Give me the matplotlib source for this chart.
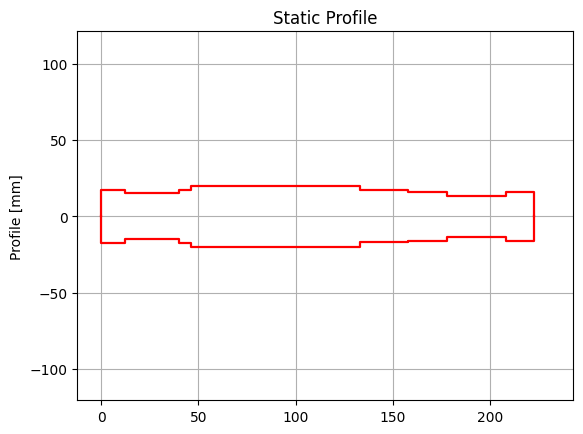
'''
Static profile of the part, upper and lower outline
'''
import matplotlib
matplotlib.use('Agg')
import matplotlib.pyplot as plt

# axial position [mm] and radius [mm] at each step of the outline
x_steps = [0, 0, 12, 12, 40, 40, 46, 46, 133, 133, 158, 158, 178, 178, 208, 208, 222.5, 222.5]
y_upper = [0, 17.5, 17.5, 15, 15, 17.5, 17.5, 20, 20, 17, 17, 16, 16, 13.5, 13.5, 16, 16, 0]
y_lower = [0, -17.5, -17.5, -15, -15, -17.5, -17.5, -20, -20, -17, -17, -16, -16, -13.5, -13.5, -16, -16, 0]

fig, ax = plt.subplots(figsize=(5.83, 4.35), dpi=100)
ax.plot(x_steps, y_upper, color='red', linewidth=1.6)
ax.plot(x_steps, y_lower, color='red', linewidth=1.6)
ax.set_xlim(-12.3, 242.8)
ax.set_ylim(-120.6, 121.2)
ax.set_title('Static Profile')
ax.set_ylabel('Profile [mm]')
ax.grid(True)
fig.subplots_adjust(left=0.1326, right=0.9834, top=0.9257, bottom=0.0775)
plt.savefig('out.png')
